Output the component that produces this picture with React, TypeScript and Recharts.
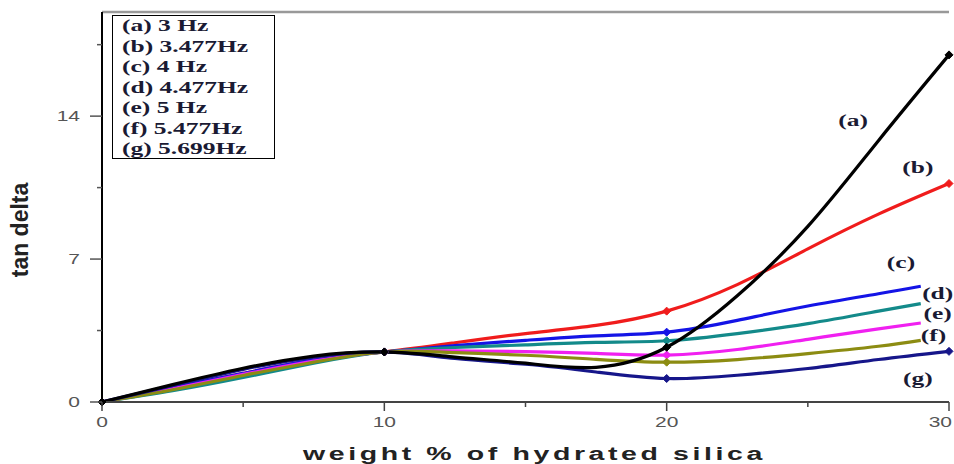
import { LineChart, Line, XAxis, YAxis, ReferenceLine, ReferenceDot, Legend } from "recharts";

// weight % of hydrated silica
const weightPct = [0, 2.5, 5, 7.5, 10, 12.5, 15, 17.5, 20, 22.5, 25, 27.5, 29, 30];

// tan delta, one list per frequency
const hz3 = [0, 0.85, 1.65, 2.25, 2.45, 2.2, 1.9, 1.7, 2.68, 5.2, 8.6, 12.8, null, 17.0];
const hz3477 = [0, 0.7, 1.4, 2.05, 2.45, 2.9, 3.35, 3.75, 4.45, 5.75, 7.5, 9.2, null, 10.7];
const hz4 = [0, 0.7, 1.4, 2.05, 2.45, 2.76, 3.02, 3.24, 3.42, 4.0, 4.7, 5.3, 5.67, null];
const hz4477 = [0, 0.55, 1.2, 1.9, 2.45, 2.67, 2.8, 2.92, 3.0, 3.35, 3.84, 4.45, 4.82, null];
const hz5 = [0, 0.65, 1.35, 2.0, 2.45, 2.5, 2.47, 2.38, 2.3, 2.57, 3.07, 3.58, 3.87, null];
const hz5477 = [0, 0.6, 1.3, 1.95, 2.45, 2.42, 2.29, 2.09, 1.95, 2.08, 2.37, 2.73, 3.02, null];
const hz5699 = [0, 0.8, 1.6, 2.2, 2.45, 2.13, 1.85, 1.47, 1.15, 1.31, 1.64, 2.08, null, 2.48];

const legendLabels = [
  "(a) 3 Hz",
  "(b) 3.477Hz",
  "(c) 4 Hz",
  "(d) 4.477Hz",
  "(e) 5 Hz",
  "(f) 5.477Hz",
  "(g) 5.699Hz",
];

// curve tags, placed in data units
const tagText = ["(a)", "(b)", "(c)", "(d)", "(e)", "(f)", "(g)"];
const tagX = [26.6, 28.9, 28.3, 29.6, 29.6, 29.45, 28.9];
const tagY = [13.8, 11.5, 6.85, 5.35, 4.35, 3.3, 1.15];

const xTicks = [0, 5, 10, 15, 20, 25, 30];
const xMajor = [0, 10, 20, 30];
const yTicks = [0, 3.5, 7, 10.5, 14, 17.5];
const yMajor = [0, 7, 14];
const markerX = [0, 10, 20, 30];
const Y_MAX = 19.1;

const data = weightPct.map((w, i) => ({
  w,
  a: hz3[i],
  b: hz3477[i],
  c: hz4[i],
  d: hz4477[i],
  e: hz5[i],
  f: hz5477[i],
  g: hz5699[i],
}));

const series = [
  { key: "b", color: "#f01c1c" },
  { key: "c", color: "#1414e6" },
  { key: "d", color: "#138a8a" },
  { key: "e", color: "#f020f0" },
  { key: "f", color: "#8c8c12" },
  { key: "g", color: "#16168a" },
  { key: "a", color: "#000000" },
];

const SANS = "'Liberation Sans', Arial, sans-serif";
const SERIF = "'Liberation Serif', 'Times New Roman', serif";

function Marker(props: any) {
  const { cx, cy, payload, stroke } = props;
  if (cx == null || cy == null || !markerX.includes(payload.w)) return <g key={props.key} />;
  const r = 4;
  return (
    <path
      key={props.key}
      d={`M${cx},${cy - r} L${cx + r},${cy} L${cx},${cy + r} L${cx - r},${cy} Z`}
      fill={stroke}
      stroke={stroke}
    />
  );
}

function YTick({ x, y, payload }: any) {
  const major = yMajor.includes(payload.value);
  return (
    <g>
      <line x1={x - (major ? 12 : 5)} x2={x} y1={y} y2={y} stroke="#555" strokeWidth={1.5} />
      {major && (
        <text
          transform={`translate(${x - 22},${y}) scale(1.5,1)`}
          textAnchor="end"
          dy="0.36em"
          fontSize={14}
          fontFamily={SANS}
          fill="#555"
        >
          {payload.value}
        </text>
      )}
    </g>
  );
}

function XTick({ x, y, payload }: any) {
  const major = xMajor.includes(payload.value);
  // the last label sits at the right edge, so pull it in
  const last = payload.value === 30;
  return (
    <g>
      <line x1={x} x2={x} y1={y} y2={y + (major ? 9 : 5)} stroke="#444" strokeWidth={1.5} />
      {major && (
        <text
          transform={`translate(${last ? 952 : x},${y + 20}) scale(1.5,1)`}
          textAnchor={last ? "end" : "middle"}
          dy="0.36em"
          fontSize={14}
          fontFamily={SANS}
          fill="#555"
        >
          {payload.value}
        </text>
      )}
    </g>
  );
}

function LegendBox() {
  return (
    <div
      style={{
        width: 163,
        height: 144,
        boxSizing: "border-box",
        border: "1.5px solid #000",
        background: "#fff",
        paddingLeft: 9,
      }}
    >
      {legendLabels.map((t) => (
        <div
          key={t}
          style={{
            fontFamily: SERIF,
            fontWeight: "bold",
            fontSize: 17,
            lineHeight: "20.5px",
            color: "#1a1a33",
            whiteSpace: "nowrap",
            transform: "scaleX(1.5)",
            transformOrigin: "left center",
          }}
        >
          {t}
        </div>
      ))}
    </div>
  );
}

export default function App() {
  return (
    <div style={{ position: "absolute", left: 0, top: 0, background: "#fff" }}>
      <LineChart width={954} height={464} data={data} margin={{ top: 12, right: 5, bottom: 0, left: 0 }}>
        <XAxis
          dataKey="w"
          type="number"
          domain={[0, 30]}
          ticks={xTicks}
          interval={0}
          height={62}
          tickSize={0}
          tickMargin={0}
          tickLine={false}
          tick={<XTick />}
          stroke="#444"
          strokeWidth={2}
          label={() => (
            <text
              transform="translate(303,460) scale(1.5,1)"
              fontSize={19}
              fontWeight="bold"
              fontFamily={SANS}
              fill="#222"
              style={{ letterSpacing: 2.4 }}
            >
              weight % of hydrated silica
            </text>
          )}
        />
        <YAxis
          type="number"
          domain={[0, Y_MAX]}
          ticks={yTicks}
          interval={0}
          width={102}
          tickSize={0}
          tickMargin={0}
          tickLine={false}
          tick={<YTick />}
          stroke="#000"
          strokeWidth={2}
          label={() => (
            <text
              transform="translate(28,230) rotate(-90)"
              textAnchor="middle"
              fontSize={23}
              fontWeight="bold"
              fontFamily={SANS}
              fill="#222"
            >
              tan delta
            </text>
          )}
        />
        <ReferenceLine y={Y_MAX} stroke="#999" strokeWidth={2.5} />
        <Legend
          layout="vertical"
          align="center"
          verticalAlign="middle"
          wrapperStyle={{ top: 15, left: 112, width: 163, height: 144 }}
          content={() => <LegendBox />}
        />
        {series.map((s) => (
          <Line
            key={s.key}
            dataKey={s.key}
            type="natural"
            stroke={s.color}
            strokeWidth={3.2}
            connectNulls
            dot={<Marker />}
            activeDot={false}
            isAnimationActive={false}
          />
        ))}
        {tagText.map((t, i) => (
          <ReferenceDot
            key={t}
            x={tagX[i]}
            y={tagY[i]}
            r={0}
            shape={(p: any) => (
              <text
                transform={`translate(${p.cx},${p.cy}) scale(1.5,1)`}
                textAnchor="middle"
                dy="0.35em"
                fontSize={17}
                fontWeight="bold"
                fontFamily={SERIF}
                fill="#1a1a33"
              >
                {t}
              </text>
            )}
          />
        ))}
      </LineChart>
    </div>
  );
}
